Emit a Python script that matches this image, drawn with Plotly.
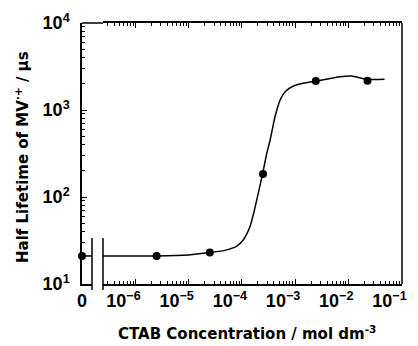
import plotly.graph_objects as go

# Measured points
zero_conc = [0]
zero_life = [21]
conc = [2.5e-6, 2.5e-5, 2.5e-4, 2.45e-3, 2.3e-2]
life = [21, 23, 184, 2150, 2170]

# Smooth curve
curve_zero_conc = [0, 1]
curve_zero_life = [21, 21]
curve_conc = [2.45e-7, 2.5e-6, 1.0e-5, 2.5e-5, 5.0e-5, 7.9e-5, 1.06e-4, 1.43e-4, 1.78e-4,
              2.45e-4, 2.95e-4, 3.4e-4, 4.2e-4, 5.25e-4, 6.5e-4, 9.3e-4, 1.43e-3, 2.45e-3,
              7.0e-3, 1.15e-2, 2.3e-2, 4.8e-2]
curve_life = [21, 21, 21.6, 23, 24.5, 27, 32, 46, 77,
              184, 321, 452, 837, 1303, 1622, 1888, 2029, 2150,
              2416, 2460, 2250, 2250]

x_tickvals = [1e-6, 1e-5, 1e-4, 1e-3, 1e-2, 1e-1]
x_ticktext = ["10<sup>−6</sup>", "10<sup>−5</sup>", "10<sup>−4</sup>",
              "10<sup>−3</sup>", "10<sup>−2</sup>", "10<sup>−1</sup>"]
y_tickvals = [10, 100, 1000, 10000]
y_ticktext = ["10<sup>1</sup>", "10<sup>2</sup>", "10<sup>3</sup>", "10<sup>4</sup>"]

x_minor = [m * 10.0 ** e for e in range(-7, -1) for m in range(2, 10)]
y_minor = [m * 10.0 ** e for e in range(1, 4) for m in range(2, 10)]

TICKFONT = "Liberation Sans, Arial, Helvetica, sans-serif"
TITLEFONT = "DejaVu Sans, sans-serif"
W, H = 418, 346
L, R, T, B = 82, 16, 23, 62
pw, ph = W - L - R, H - T - B
d1 = 10 / pw
d2 = 21 / pw

fig = go.Figure()
fig.add_trace(go.Scatter(x=curve_zero_conc, y=curve_zero_life, mode="lines",
                         line=dict(color="black", width=1.5), xaxis="x", yaxis="y",
                         showlegend=False, cliponaxis=False))
fig.add_trace(go.Scatter(x=zero_conc, y=zero_life, mode="markers",
                         marker=dict(color="black", size=8), xaxis="x", yaxis="y",
                         showlegend=False, cliponaxis=False))
fig.add_trace(go.Scatter(x=curve_conc, y=curve_life, mode="lines",
                         line=dict(color="black", width=1.5, shape="spline", smoothing=0.6),
                         xaxis="x2", yaxis="y", showlegend=False, cliponaxis=False))
fig.add_trace(go.Scatter(x=conc, y=life, mode="markers",
                         marker=dict(color="black", size=8), xaxis="x2", yaxis="y",
                         showlegend=False, cliponaxis=False))

tickfont = dict(family=TICKFONT, size=18, color="black", weight="bold")
axline = dict(showline=True, linecolor="black", linewidth=1.5, showgrid=False, zeroline=False)
y_minor_spec = dict(tickvals=y_minor, ticks="inside", ticklen=3, tickcolor="black",
                    tickwidth=1, showgrid=False)

fig.update_layout(
    width=W, height=H,
    margin=dict(l=L, r=R, t=T, b=B),
    paper_bgcolor="white", plot_bgcolor="white",
    xaxis=dict(domain=[0, d1], range=[0, 1], anchor="y", tickvals=[0], ticktext=["0"],
               ticks="", tickfont=tickfont, **axline),
    xaxis2=dict(domain=[d2, 1], type="log", range=[-6.61, -0.99], anchor="y",
                tickvals=x_tickvals, ticktext=x_ticktext, ticks="inside", ticklen=5,
                tickwidth=1, tickcolor="black", mirror="ticks", ticklabelshift=-12,
                minor=dict(tickvals=x_minor, ticks="inside", ticklen=3, tickcolor="black",
                           tickwidth=1, showgrid=False),
                tickfont=tickfont, **axline),
    yaxis=dict(type="log", range=[1, 4], anchor="x", tickvals=y_tickvals, ticktext=y_ticktext,
               ticks="inside", ticklen=5, tickwidth=1, tickcolor="black",
               ticklabelstandoff=7,
               minor=y_minor_spec, tickfont=tickfont, **axline),
    yaxis2=dict(type="log", range=[1, 4], anchor="free", position=1, overlaying="y",
                side="right", tickvals=y_tickvals, showticklabels=False,
                ticks="inside", ticklen=5, tickwidth=1, tickcolor="black",
                minor=y_minor_spec, **axline),
    shapes=[
        dict(type="line", xref="paper", yref="paper", x0=0, x1=d2, y0=1, y1=1,
             line=dict(color="black", width=1.5)),
        dict(type="line", xref="paper", yref="paper", x0=1, x1=1, y0=0, y1=1,
             line=dict(color="black", width=1.5)),
        dict(type="line", xref="paper", yref="paper", x0=d1, x1=d1,
             y0=-6 / ph, y1=46 / ph, line=dict(color="black", width=1.5)),
        dict(type="line", xref="paper", yref="paper", x0=d2, x1=d2,
             y0=-6 / ph, y1=46 / ph, line=dict(color="black", width=1.5)),
    ],
    annotations=[
        dict(text="CTAB Concentration / mol dm<sup>-3</sup>", xref="paper", yref="paper",
             x=(247 - L) / pw, y=(T + ph - 333) / ph, showarrow=False,
             font=dict(family=TITLEFONT, size=15, color="black", weight="bold"),
             xanchor="center", yanchor="middle"),
        dict(text="Half Lifetime of MV<sup>·+</sup> / μs", xref="paper", yref="paper",
             x=(22 - L) / pw, y=(T + ph - 157) / ph, showarrow=False, textangle=-90,
             font=dict(family=TITLEFONT, size=15, color="black", weight="bold"),
             xanchor="center", yanchor="middle"),
    ],
)

fig.write_html("out.html")
